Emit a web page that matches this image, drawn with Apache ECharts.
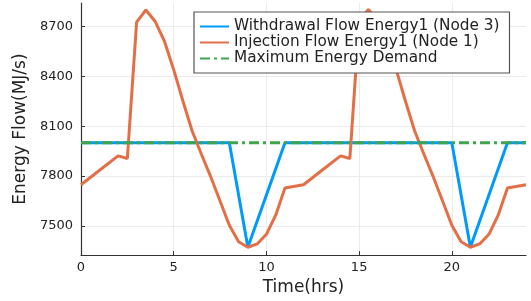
<!DOCTYPE html>
<html>
<head>
<meta charset="utf-8">
<script src="https://cdn.jsdelivr.net/npm/echarts@6/dist/echarts.min.js"></script>
<style>
html,body{margin:0;padding:0;background:#fff;}
#c{width:531px;height:301px;}
</style>
</head>
<body>
<div id="c"></div>
<script>
// Data
const seriesNames = ["Withdrawal Flow Energy1 (Node 3)", "Injection Flow Energy1 (Node 1)", "Maximum Energy Demand"];
const withdrawalHours = [0, 8, 9, 11, 20, 21, 23, 24];
const withdrawalValues = [8000, 8000, 7372, 8000, 8000, 7372, 8000, 8000];
const injectionHours = [0, 1, 2, 2.5, 3, 3.5, 4, 4.5, 5, 5.5, 6, 6.5, 7, 7.5, 8, 8.5, 9, 9.5, 10, 10.5, 11,
  12, 13, 14, 14.5, 15, 15.5, 16, 16.5, 17, 17.5, 18, 18.5, 19, 19.5, 20, 20.5, 21, 21.5, 22, 22.5, 23, 24];
const injectionValues = [7748, 7835, 7922, 7906, 8726, 8799, 8730, 8611, 8440, 8250, 8070, 7930, 7795, 7650, 7505, 7405, 7372, 7392, 7450, 7565, 7728,
  7748, 7835, 7922, 7906, 8726, 8803, 8730, 8611, 8440, 8250, 8070, 7930, 7795, 7650, 7505, 7405, 7372, 7392, 7450, 7565, 7728, 7748];
const demandHours = [0, 24];
const demandValues = [8000, 8000];
const xTicks = [0, 5, 10, 15, 20];
const yTicks = [7500, 7800, 8100, 8400, 8700];

const zip = (xs, ys) => xs.map((x, i) => [x, ys[i]]);
const chart = echarts.init(document.getElementById('c'), null, {renderer: 'canvas'});
const font = 'DejaVu Sans';
chart.setOption({
  animation: false,
  backgroundColor: '#ffffff',
  grid: {left: 81, right: 5, top: 3, bottom: 43, containLabel: false},
  legend: {
    orient: 'vertical',
    left: 194, top: 12,
    padding: [7, 10, 7, 5],
    itemWidth: 29, itemHeight: 10, itemGap: 1,
    backgroundColor: '#ffffff',
    borderColor: '#555555', borderWidth: 1.2, borderRadius: 0,
    itemStyle: {opacity: 0},
    textStyle: {fontFamily: font, fontSize: 15.3, color: '#222', lineHeight: 14},
    data: seriesNames
  },
  xAxis: {
    type: 'value', min: 0, max: 24,
    name: 'Time(hrs)', nameLocation: 'middle', nameGap: 21,
    nameTextStyle: {fontFamily: font, fontSize: 17, color: '#222'},
    axisLine: {show: true, lineStyle: {color: '#333', width: 1.2}},
    axisTick: {show: true, inside: true, length: 4, customValues: xTicks, lineStyle: {color: '#333'}},
    axisLabel: {customValues: xTicks, fontFamily: font, fontSize: 13, color: '#222', margin: 6},
    splitLine: {show: true, lineStyle: {color: '#ebebeb', width: 1}}
  },
  yAxis: {
    type: 'value', min: 7325, max: 8841,
    name: 'Energy Flow(MJ/s)', nameLocation: 'middle', nameGap: 42, nameRotate: 90,
    nameTextStyle: {fontFamily: font, fontSize: 17, color: '#222'},
    axisLine: {show: true, lineStyle: {color: '#333', width: 1.2}},
    axisTick: {show: true, inside: true, length: 4, customValues: yTicks, lineStyle: {color: '#333'}},
    axisLabel: {customValues: yTicks, formatter: v => String(v), fontFamily: font, fontSize: 13, color: '#222', margin: 8},
    splitLine: {show: true, lineStyle: {color: '#ebebeb', width: 1}}
  },
  series: [
    {name: seriesNames[0], type: 'line', data: zip(withdrawalHours, withdrawalValues), symbol: 'none',
     lineStyle: {color: '#009AFA', width: 3}, itemStyle: {color: '#009AFA'}},
    {name: seriesNames[1], type: 'line', data: zip(injectionHours, injectionValues), symbol: 'none',
     lineStyle: {color: '#E36F47', width: 3}, itemStyle: {color: '#E36F47'}},
    {name: seriesNames[2], type: 'line', data: zip(demandHours, demandValues), symbol: 'none',
     lineStyle: {color: '#3EA44E', width: 3, type: [10, 4, 3, 4]}, itemStyle: {color: '#3EA44E'}}
  ]
});
</script>
</body>
</html>
